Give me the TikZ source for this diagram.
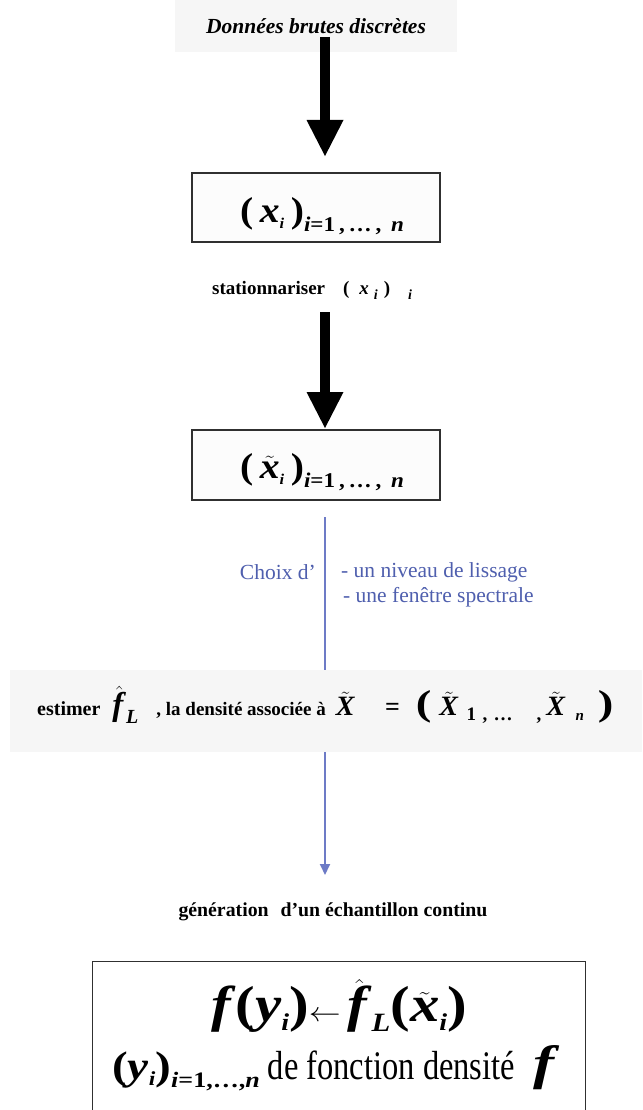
\documentclass[tikz,border=0pt]{standalone}
\usepackage{fontspec}
\usepackage{graphicx}
\setmainfont{Liberation Serif}
\usetikzlibrary{arrows.meta}
\definecolor{bluetxt}{HTML}{4F5FAE}
\definecolor{blueline}{HTML}{6D7BC6}
\definecolor{bgg}{HTML}{F6F6F6}
\definecolor{boxfill}{HTML}{FCFCFC}
\definecolor{edge}{HTML}{303030}
\newcommand{\bi}[1]{\textbf{\textit{#1}}}
\newcommand{\fs}[1]{\fontsize{#1}{#1}\selectfont}
\newcommand{\mytil}[1]{$\tilde{\mbox{#1}}$}
\newcommand{\myhat}[1]{$\hat{\mbox{#1}}$}
\newcommand{\wide}[1]{\scalebox{1.3}[1]{#1}}
\tikzset{
  bigarrow/.style={line width=10pt, -{Triangle[length=37pt,width=34pt]}},
  bluearrow/.style={blueline, line width=1.8pt, -{Triangle[length=11pt,width=10pt]}},
  blueplain/.style={blueline, line width=1.8pt},
  framebox/.style={draw=edge, line width=1.2pt, fill=boxfill, inner sep=0pt},
  greyband/.style={fill=bgg, inner sep=0pt},
  boldlabel/.style={font=\fs{19}\bfseries, inner sep=0pt},
  bluelabel/.style={text=bluetxt, font=\fs{21.5}, inner sep=0pt}
}
\begin{document}
\begin{tikzpicture}[x=1pt,y=1pt]
\useasboundingbox (0,0) rectangle (642,-1110);
\fill[white] (0,0) rectangle (642,-1110);

% top
\node[greyband, minimum width=282, minimum height=52] (top) at (316,-26) {};
\node[font=\fs{21.5}\bfseries\itshape, inner sep=0pt] (toptxt) at (316,-26) {Données brutes discrètes};

\coordinate (a1s) at (325,-37);
\coordinate (a1e) at (325,-157);
\draw[bigarrow] (a1s) -- (a1e);

% box 1
\node[framebox, minimum width=248, minimum height=69] (b1) at (316,-207.5) {};
\node[inner sep=0pt] (b1t) at (322,-216) {\scalebox{1.1}[1]{{\fs{36}\bfseries(\,\bi{x}\raisebox{-6pt}{\fs{15}\bi{i}}\,)}\raisebox{-9pt}{\fs{21}\bfseries\bi{i}=1\,,\,…\,,\, \bi{n}}}};

\node[boldlabel, anchor=west] (stat) at (212,-290) {stationnariser\hspace{18pt}(\hspace{10pt}\bi{x}\raisebox{-5pt}{\fs{14}\hspace{5pt}\bi{i}\hspace{6pt}})\raisebox{-5pt}{\fs{14}\hspace{18pt}\bi{i}}};

\coordinate (a2s) at (325,-312);
\coordinate (a2e) at (325,-429);
\draw[bigarrow] (a2s) -- (a2e);

% box 2
\node[framebox, minimum width=248, minimum height=70] (b2) at (316,-465) {};
\node[inner sep=0pt] (b2t) at (322,-472) {\scalebox{1.1}[1]{{\fs{36}\bfseries(\,\mytil{\bi{x}}\raisebox{-6pt}{\fs{15}\bi{i}}\,)}\raisebox{-9pt}{\fs{21}\bfseries\bi{i}=1\,,\,…\,,\, \bi{n}}}};

% blue line and choice
\coordinate (l1s) at (325,-517);
\coordinate (l1e) at (325,-670);
\draw[blueplain] (l1s) -- (l1e);
\node[bluelabel, anchor=east] (choix) at (316,-572) {Choix d’};
\node[bluelabel, anchor=west] (opt1) at (341,-572) {- un niveau de lissage};
\node[bluelabel, anchor=west] (opt2) at (343,-597) {- une fenêtre spectrale};

% band
\node[greyband, minimum width=632, minimum height=82] (band) at (326,-711) {};
\node[inner sep=0pt, anchor=west] (bandt) at (37,-705) {{\fs{20}\bfseries estimer}\hspace{12pt}{\fs{33}\myhat{\bi{f}}}\raisebox{-8pt}{\fs{20}\bi{L}}\hspace{18pt}{\fs{19}\bfseries , la densité associée à}\hspace{10pt}{\fs{28}\mytil{\bi{X}}}\hspace{30pt}{\fs{26}\bfseries =}\hspace{16pt}{\fs{36}\bfseries\wide{(}}\hspace{8pt}{\fs{28}\mytil{\bi{X}}}\raisebox{-5pt}{\fs{19}\bfseries\hspace{8pt}1\,\,,\,\,…\hspace{24pt},\hspace{5pt}}{\fs{28}\mytil{\bi{X}}}\raisebox{-5pt}{\fs{15}\bfseries\hspace{10pt}\bi{n}\hspace{14pt}}{\fs{36}\bfseries\wide{)}}};

\coordinate (l2s) at (325,-752);
\coordinate (l2e) at (325,-875);
\draw[bluearrow] (l2s) -- (l2e);

\node[boldlabel, font=\fs{19.8}\bfseries] (gen) at (333,-912) {génération\hspace{7pt} d’un échantillon continu};

% box 3
\node[framebox, line width=1pt, fill=white, minimum width=493, minimum height=160] (b3) at (338.5,-1041) {};
\node[inner sep=0pt] (b3l1) at (339,-1006) {\scalebox{1.28}[1.1]{{\fs{46}\bi{f}\bfseries(\bi{y}\raisebox{-8pt}{\fs{22}\bi{i}})}{\fs{40}$\leftarrow$}\hspace{5pt}{\fs{46}\myhat{\bi{f}}}\raisebox{-9pt}{\fs{24}\bi{L}}{\fs{46}\bfseries(\mytil{\bi{x}}\raisebox{-8pt}{\fs{22}\bi{i}})}}};
\node[inner sep=0pt, anchor=west] (b3l2) at (112,-1068) {\scalebox{1.24}[1.05]{{\fs{38}\bfseries(\bi{y}\raisebox{-6pt}{\fs{19}\bi{i}})}\raisebox{-8pt}{\fs{21}\bfseries\bi{i}=1,…,\bi{n}}}\hspace{8pt}\scalebox{1}[1.25]{\fs{32.5}de fonction densité}\hspace{18pt}\scalebox{1.5}[1.15]{\fs{42}\bi{f}}};
\end{tikzpicture}
\end{document}
